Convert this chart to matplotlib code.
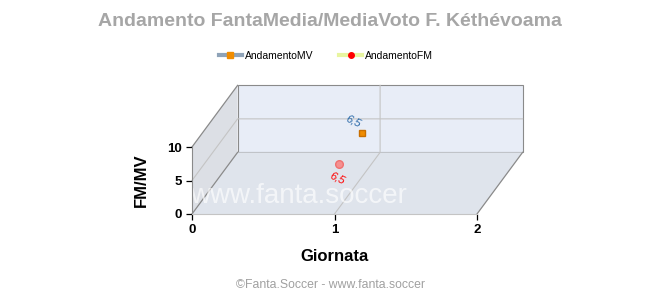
import matplotlib.pyplot as plt

# dati
giornate = [1]
media_voto = [6.5]
fanta_media = [6.5]
etichette_mv = ["6,5"]
etichette_fm = ["6,5"]
x_ticks = [0, 1, 2]
y_ticks = [0, 5, 10]

plt.rcParams["font.family"] = ["Liberation Sans", "DejaVu Sans"]

# profondità della scatola 3D (in unità dati)
DX, DY = 0.32, 9.2
X_MAX, Y_MAX = 2, 10


def back(x, y, f=1.0):
    return x + DX * f, y + DY * f


fig = plt.figure(figsize=(6.6, 3.0), dpi=100)
ax = fig.add_axes([192 / 660, 86 / 300, 285 / 660, 67 / 300])
ax.set_xlim(0, X_MAX)
ax.set_ylim(0, Y_MAX)
ax.patch.set_visible(False)

edge = "#8a8a8a"
light = "#c4c4c4"

# parete di fondo
bx0, by0 = back(0, 0)
bx1, by1 = back(X_MAX, Y_MAX)
ax.fill([bx0, bx1, bx1, bx0], [by0, by0, by1, by1], color="#e8edf7",
        ec=edge, lw=0.8, clip_on=False, zorder=0)
# pavimento
ax.fill([0, X_MAX, back(X_MAX, 0)[0], bx0], [0, 0, by0, by0], color="#dfe4ec",
        ec="none", clip_on=False, zorder=0)
# parete sinistra
ax.fill([0, bx0, bx0, 0], [0, by0, by1, Y_MAX], color="#dcdfe5",
        ec="none", clip_on=False, zorder=0)

# griglia
ax.plot([1, back(1, 0)[0], back(1, Y_MAX)[0]], [0, by0, by1], color=light,
        lw=0.8, clip_on=False, zorder=1)
ax.plot([0, bx0, bx1], [5, back(0, 5)[1], back(0, 5)[1]], color=light,
        lw=0.8, clip_on=False, zorder=1)
# spigoli
ax.plot([0, bx0], [0, by0], color=edge, lw=0.9, clip_on=False, zorder=1)
ax.plot([0, bx0], [Y_MAX, by1], color=edge, lw=0.9, clip_on=False, zorder=1)
ax.plot([X_MAX, back(X_MAX, 0)[0]], [0, by0], color=edge, lw=0.9,
        clip_on=False, zorder=1)

for side in ("top", "right"):
    ax.spines[side].set_visible(False)
ax.spines["left"].set_color(edge)
ax.spines["bottom"].set_color(light)
ax.set_xticks(x_ticks)
ax.set_yticks(y_ticks)
ax.tick_params(length=4, width=0.9, colors="black", labelsize=9.5)
for lab in ax.get_xticklabels() + ax.get_yticklabels():
    lab.set_fontweight("bold")

# filigrana
ax.text(0.75, 2.7, "www.fanta.soccer", fontsize=20, color="white", alpha=0.65,
        ha="center", va="center", zorder=2)

# serie
mv_x = [back(g, v, 0.6)[0] for g, v in zip(giornate, media_voto)]
mv_y = [back(g, v, 0.6)[1] for g, v in zip(giornate, media_voto)]
fm_x = [back(g, v, 0.1)[0] for g, v in zip(giornate, fanta_media)]
fm_y = [back(g, v, 0.1)[1] for g, v in zip(giornate, fanta_media)]

ax.plot(mv_x, mv_y, "s", color="#f08c00", ms=4.5, mec="#c86e00",
        clip_on=False, zorder=3)
ax.plot(fm_x, fm_y, "o", color="#f59090", ms=5.5, mec="#f07070",
        clip_on=False, zorder=3)
for x, y, t in zip(mv_x, mv_y, etichette_mv):
    ax.annotate(t, (x, y), xytext=(-6, 9), textcoords="offset points",
                color="#2868a8", fontsize=8, style="italic", rotation=-25,
                ha="center", va="center", zorder=4, annotation_clip=False)
for x, y, t in zip(fm_x, fm_y, etichette_fm):
    ax.annotate(t, (x, y), xytext=(-1, -10), textcoords="offset points",
                color="#ff0000", fontsize=8, style="italic", rotation=-25,
                ha="center", va="center", zorder=4, annotation_clip=False)

ax.set_xlabel("Giornata", fontsize=12, fontweight="bold", labelpad=9)
ax.set_ylabel("FM/MV", fontsize=12, fontweight="bold", labelpad=13)

# legenda
h_mv, = ax.plot([], [], color="#8fa3b8", lw=3, marker="s", ms=4,
                mfc="#f08c00", mec="#f08c00")
h_fm, = ax.plot([], [], color="#e8f5a0", lw=3, marker="o", ms=4,
                mfc="#ff0000", mec="#ff0000")
fig.legend([h_mv, h_fm], ["AndamentoMV", "AndamentoFM"], loc="center",
           bbox_to_anchor=(326 / 660, 1 - 56 / 300), ncol=2, frameon=False,
           fontsize=7.5, handlelength=2.2, handletextpad=0.3, columnspacing=2.5)

fig.text(0.5, 1 - 21 / 300, "Andamento FantaMedia/MediaVoto F. Kéthévoama",
         ha="center", va="center", fontsize=14, fontweight="bold",
         color="#a6a6a6")
fig.text(0.5, 1 - 285 / 300, "©Fanta.Soccer - www.fanta.soccer",
         ha="center", va="center", fontsize=8.8, color="#a0a0a0")

fig.savefig("out.png", dpi=100)
